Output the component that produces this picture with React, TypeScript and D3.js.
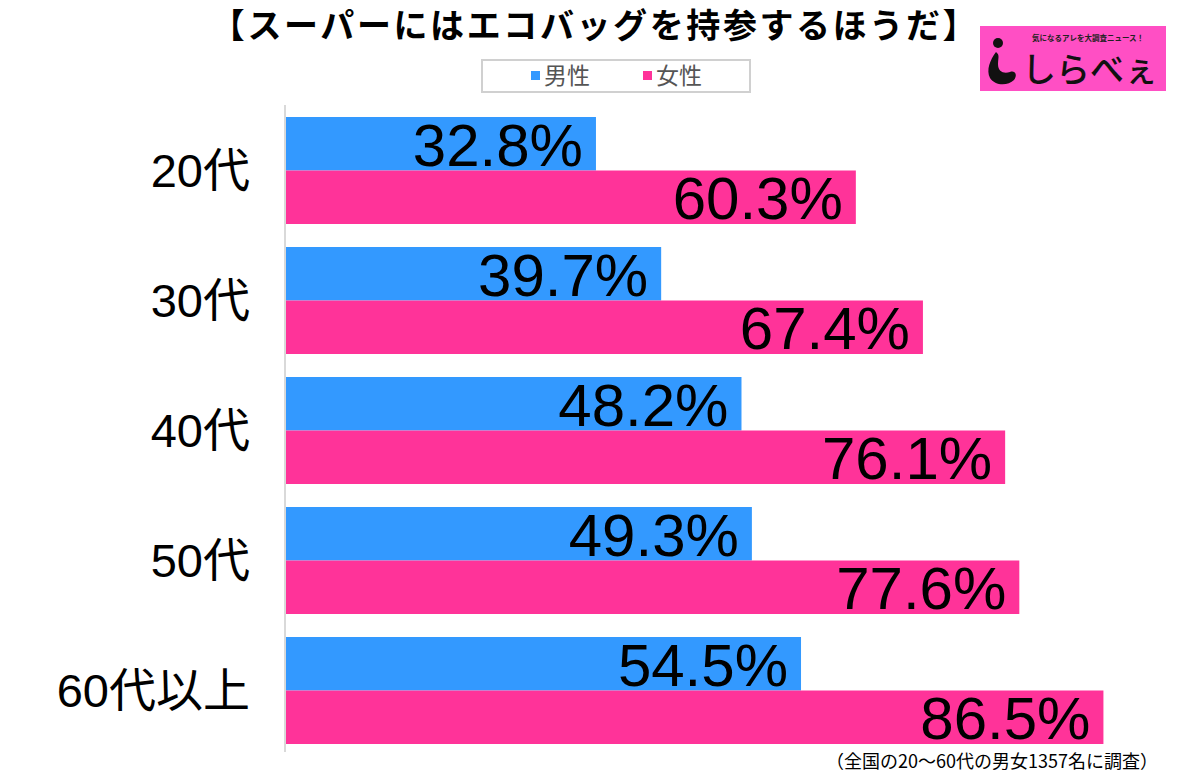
import { useEffect, useRef } from 'react';
import * as d3 from 'd3';

const categories = ['20代', '30代', '40代', '50代', '60代以上'];
const seriesNames = ['男性', '女性'];
const maleValues = [32.8, 39.7, 48.2, 49.3, 54.5];
const femaleValues = [60.3, 67.4, 76.1, 77.6, 86.5];
const seriesColors = ['#3399ff', '#ff3399'];

const title = '【スーパーにはエコバッグを持参するほうだ】';
const footnote = '（全国の20～60代の男女1357名に調査）';

const JP = '"Noto Sans CJK JP", "Noto Sans", sans-serif';
const NUM = '"Liberation Sans", Arial, sans-serif';

export default function App() {
    const svgRef = useRef<SVGSVGElement>(null);
    const width = 1200;
    const height = 775;

    useEffect(() => {
        if (!svgRef.current) return;
        const svg = d3.select(svgRef.current);
        svg.selectAll('*').remove();

        const x0 = 286;
        const x = d3.scaleLinear().domain([0, 100]).range([x0, x0 + 945]);

        const y = d3.scaleBand<string>()
            .domain(categories)
            .range([105.5, 755.5])
            .paddingInner(0.177)
            .paddingOuter(0.0885);

        const inner = d3.scaleBand<string>()
            .domain(seriesNames)
            .range([0, y.bandwidth()]);

        const rows = categories.map((c, i) => ({ cat: c, values: [maleValues[i], femaleValues[i]] }));

        // title
        svg.append('text')
            .attr('x', 595)
            .attr('y', 38)
            .attr('text-anchor', 'middle')
            .attr('font-family', JP)
            .attr('font-weight', 700)
            .attr('font-size', 34)
            .attr('letter-spacing', 2.6)
            .attr('fill', '#000')
            .text(title);

        // legend
        const lg = svg.append('g');
        lg.append('rect')
            .attr('x', 482).attr('y', 60).attr('width', 268).attr('height', 32)
            .attr('fill', '#fff').attr('stroke', '#d0d0d0').attr('stroke-width', 2);
        const legendX = [531, 643];
        seriesNames.forEach((name, i) => {
            lg.append('rect')
                .attr('x', legendX[i]).attr('y', 71).attr('width', 9).attr('height', 9)
                .attr('fill', seriesColors[i]);
            lg.append('text')
                .attr('x', legendX[i] + 13).attr('y', 84)
                .attr('font-family', JP).attr('font-size', 23).attr('fill', '#555')
                .text(name);
        });

        // logo
        const logo = svg.append('g');
        logo.append('rect')
            .attr('x', 980).attr('y', 26).attr('width', 186).attr('height', 65)
            .attr('fill', '#ff4fc4');
        logo.append('text')
            .attr('x', 1088).attr('y', 41)
            .attr('text-anchor', 'middle')
            .attr('font-family', JP).attr('font-size', 7.5).attr('font-weight', 700)
            .attr('fill', '#222')
            .text('気になるアレを大調査ニュース！');
        logo.append('circle').attr('cx', 998).attr('cy', 43).attr('r', 5).attr('fill', '#111');
        logo.append('path')
            .attr('d', 'M996,52 C990,60 986,70 990,78 C995,86 1008,86 1014,80 C1018,75 1015,70 1010,72 C1004,74 998,72 998,64 C998,58 1000,55 996,52 Z')
            .attr('fill', '#111');
        logo.append('text')
            .attr('x', 1022).attr('y', 82)
            .attr('font-family', JP).attr('font-size', 34).attr('font-weight', 500)
            .attr('fill', '#111')
            .text('しらべぇ');

        // bars
        const groups = svg.append('g')
            .selectAll('g')
            .data(rows)
            .enter()
            .append('g')
            .attr('transform', d => `translate(0,${y(d.cat)})`);

        groups.selectAll('rect')
            .data(d => d.values.map((v, i) => ({ name: seriesNames[i], v, i })))
            .enter()
            .append('rect')
            .attr('x', x(0))
            .attr('y', d => inner(d.name)!)
            .attr('width', d => x(d.v) - x(0))
            .attr('height', inner.bandwidth())
            .attr('fill', d => seriesColors[d.i]);

        groups.selectAll('text.val')
            .data(d => d.values.map((v, i) => ({ name: seriesNames[i], v, i })))
            .enter()
            .append('text')
            .attr('class', 'val')
            .attr('x', d => x(d.v) - 13)
            .attr('y', d => inner(d.name)! + inner.bandwidth() - 5)
            .attr('text-anchor', 'end')
            .attr('font-family', NUM)
            .attr('font-size', 60)
            .attr('fill', '#000')
            .text(d => `${d.v.toFixed(1)}%`);

        // category labels
        svg.append('g')
            .selectAll('text')
            .data(categories)
            .enter()
            .append('text')
            .attr('x', 250)
            .attr('y', d => y(d)! + y.bandwidth() / 2)
            .attr('dy', '0.36em')
            .attr('text-anchor', 'end')
            .attr('font-family', `${NUM.split(',')[0]}, ${JP}`)
            .attr('font-size', 47)
            .attr('fill', '#000')
            .text(d => d);

        // axis line
        svg.append('line')
            .attr('x1', x0 - 1).attr('x2', x0 - 1)
            .attr('y1', 105).attr('y2', 752)
            .attr('stroke', '#d9d9d9').attr('stroke-width', 2);

        // footnote
        svg.append('text')
            .attr('x', 1158).attr('y', 768)
            .attr('text-anchor', 'end')
            .attr('font-family', JP)
            .attr('font-size', 18)
            .attr('fill', '#000')
            .text(footnote);
    }, []);

    return (
        <svg
            ref={svgRef}
            width={width}
            height={height}
            viewBox={`0 0 ${width} ${height}`}
            style={{ position: 'absolute', left: 0, top: 0, background: '#fff' }}
        />
    );
}
